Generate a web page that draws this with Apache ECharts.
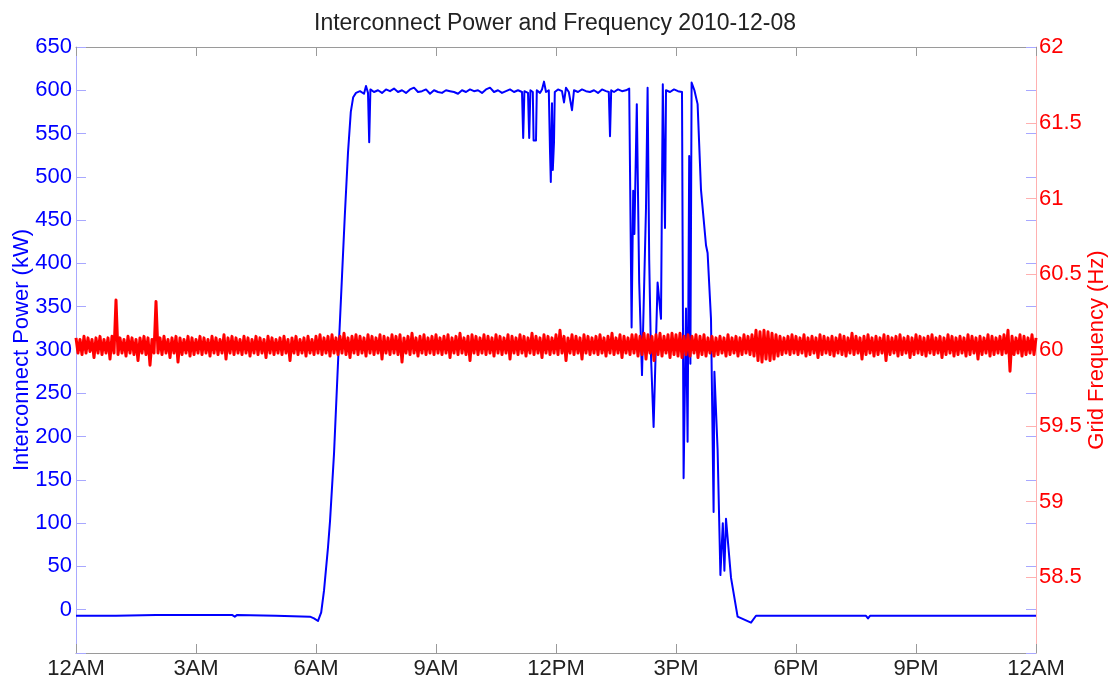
<!DOCTYPE html>
<html>
<head>
<meta charset="utf-8">
<script src="https://cdn.jsdelivr.net/npm/echarts@6/dist/echarts.min.js"></script>
<style>html,body{margin:0;padding:0;background:#fff}#c{width:1110px;height:683px}</style>
</head>
<body>
<div id="c"></div>
<script>
const titleText = 'Interconnect Power and Frequency 2010-12-08';
const xTickLabels = ['12AM','3AM','6AM','9AM','12PM','3PM','6PM','9PM','12AM'];

const powerHours = [0,1.0,2.0,3.0,3.9,3.97,4.03,5.0,5.85,5.95,6.0,6.05,6.1,6.13,6.2,6.3,6.35,6.45,6.55,6.65,6.72,6.8,6.87,6.93,
7.0,7.1,7.2,7.25,7.3,7.33,7.36,7.45,7.55,7.65,7.75,7.85,7.95,8.05,8.15,8.25,8.35,8.45,8.55,8.65,8.75,8.85,8.95,
9.05,9.15,9.25,9.35,9.45,9.55,9.65,9.75,9.85,9.95,10.05,10.15,10.25,10.35,10.45,10.55,10.65,10.75,10.85,10.95,
11.05,11.15,11.18,11.21,11.3,11.33,11.36,11.42,11.44,11.47,11.5,11.52,11.6,11.65,11.7,11.75,11.82,11.85,11.87,11.9,11.92,11.95,11.97,
12.05,12.15,12.2,12.25,12.32,12.4,12.45,12.55,12.65,12.75,12.85,12.95,13.05,13.15,13.25,13.32,13.35,13.38,13.45,13.55,13.65,13.75,13.83,
13.89,13.93,13.96,14.02,14.08,14.15,14.25,14.29,14.33,14.375,14.44,14.54,14.59,14.625,14.67,14.725,14.75,14.85,14.95,15.05,15.15,
15.19,15.25,15.29,15.33,15.36,15.39,15.46,15.54,15.625,15.75,15.79,15.875,15.94,15.96,16.04,16.11,16.17,16.21,16.25,16.375,16.54,16.875,
17.0,18.0,18.05,19.0,19.75,19.8,19.85,21.0,22.0,23.0,24.0];
const powerKW = [-7,-7,-6,-6,-6,-8,-6,-7,-8,-10,-9,-13,-12,-3,22,72,102,180,285,385,455,528,575,592,
597,599,596,605,597,540,601,598,600,597,601,599,602,598,600,597,601,603,598,599,601,596,600,
598,597,600,599,598,596,600,598,601,599,600,597,601,603,598,600,597,599,601,598,
600,598,545,599,597,545,600,598,542,544,542,600,597,601,610,598,600,530,494,585,508,540,598,
601,599,586,603,598,577,600,598,601,599,598,600,597,601,599,598,547,600,598,601,599,600,602,
326,484,434,584,378,271,464,603,404,293,211,378,376,336,607,441,600,598,601,599,598,
152,348,194,524,284,609,600,584,485,421,412,336,113,275,185,40,100,45,105,37,-8,-15,
-7,-7,-8,-7,-7,-10,-7,-7,-7,-7,-7];

const freqStepHours = 0.05;
const freqHz = [
60.08,59.98,60.07,59.97,60.09,59.98,60.08,59.99,60.07,59.95,60.08,59.98,60.09,59.97,60.07,59.98,60.08,59.94,60.09,59.98,
60.33,59.97,60.08,59.98,60.07,59.96,60.09,59.98,60.08,59.97,60.07,59.93,60.08,59.98,60.09,59.97,60.08,59.90,60.07,59.98,
60.32,59.98,60.08,59.97,60.09,59.98,60.07,59.95,60.08,59.98,60.09,59.92,60.08,59.97,60.07,59.98,60.09,59.96,60.08,59.97,
60.07,59.98,60.09,59.97,60.08,59.98,60.07,59.96,60.09,59.98,60.08,59.97,60.07,59.98,60.10,59.94,60.08,59.98,60.09,59.97,
60.08,59.98,60.07,59.97,60.09,59.98,60.08,59.96,60.07,59.98,60.09,59.97,60.08,59.98,60.07,59.95,60.09,59.98,60.08,59.97,
60.07,59.98,60.08,59.97,60.09,59.98,60.07,59.93,60.08,59.98,60.09,59.97,60.07,59.98,60.08,59.96,60.09,59.98,60.07,59.97,
60.09,59.98,60.10,59.97,60.08,59.98,60.09,59.96,60.10,59.98,60.08,59.97,60.09,59.98,60.11,59.97,60.08,59.95,60.09,59.98,
60.10,59.97,60.09,59.98,60.08,59.96,60.10,59.98,60.09,59.97,60.08,59.98,60.10,59.94,60.09,59.98,60.08,59.97,60.10,59.98,
60.09,59.97,60.10,59.92,60.08,59.98,60.09,59.97,60.11,59.98,60.08,59.96,60.09,59.98,60.10,59.97,60.08,59.98,60.09,59.97,
60.10,59.98,60.08,59.97,60.09,59.98,60.10,59.95,60.08,59.98,60.09,59.97,60.11,59.98,60.08,59.97,60.09,59.93,60.10,59.98,
60.09,59.97,60.08,59.98,60.10,59.97,60.09,59.98,60.08,59.96,60.10,59.98,60.09,59.97,60.08,59.98,60.10,59.94,60.09,59.98,
60.08,59.97,60.10,59.98,60.09,59.96,60.08,59.98,60.11,59.97,60.09,59.98,60.08,59.95,60.10,59.98,60.09,59.97,60.08,59.98,
60.10,59.97,60.13,59.98,60.09,59.93,60.08,59.98,60.10,59.97,60.09,59.98,60.08,59.94,60.10,59.98,60.09,59.97,60.08,59.98,
60.09,59.97,60.10,59.98,60.08,59.96,60.09,59.98,60.11,59.97,60.08,59.98,60.10,59.95,60.09,59.98,60.08,59.97,60.10,59.98,
60.10,59.96,60.09,59.97,60.11,59.94,60.10,59.98,60.09,59.93,60.10,59.97,60.11,59.96,60.09,59.98,60.10,59.95,60.11,59.97,
60.10,59.96,60.11,59.95,60.09,59.97,60.10,59.96,60.09,59.98,60.10,59.95,60.09,59.97,60.10,59.96,60.08,59.98,60.09,59.96,
60.08,59.97,60.09,59.98,60.08,59.96,60.10,59.97,60.08,59.98,60.09,59.96,60.08,59.97,60.10,59.98,60.09,59.97,60.10,59.96,
60.13,59.93,60.12,59.92,60.13,59.94,60.12,59.93,60.11,59.94,60.10,59.96,60.09,59.97,60.08,59.98,60.09,59.97,60.10,59.98,
60.09,59.97,60.08,59.98,60.10,59.96,60.08,59.97,60.09,59.98,60.08,59.95,60.10,59.97,60.09,59.98,60.08,59.97,60.09,59.96,
60.08,59.98,60.10,59.97,60.09,59.96,60.08,59.98,60.11,59.97,60.09,59.98,60.08,59.94,60.09,59.97,60.10,59.98,60.08,59.96,
60.09,59.97,60.08,59.98,60.10,59.93,60.09,59.97,60.08,59.98,60.09,59.96,60.10,59.97,60.08,59.98,60.09,59.95,60.08,59.97,
60.10,59.98,60.09,59.97,60.08,59.96,60.09,59.98,60.10,59.97,60.08,59.98,60.09,59.95,60.08,59.97,60.10,59.98,60.09,59.96,
60.08,59.97,60.09,59.98,60.08,59.96,60.10,59.97,60.09,59.98,60.08,59.94,60.09,59.97,60.08,59.98,60.10,59.96,60.09,59.97,
60.08,59.98,60.09,59.97,60.10,59.98,60.13,59.86,60.09,59.97,60.08,59.98,60.10,59.96,60.09,59.97,60.08,59.98,60.10,59.97,
60.08];

const FONT = '"Liberation Sans", Arial, Helvetica, sans-serif';
const powerData = powerHours.map((h, i) => [h, powerKW[i]]);
const freqData = freqHz.map((v, i) => [i * freqStepHours, v]);

const chart = echarts.init(document.getElementById('c'), null, {renderer: 'canvas'});
chart.setOption({
  animation: false,
  backgroundColor: '#fff',
  title: {
    text: titleText, left: 'center', top: 7,
    textStyle: {fontFamily: FONT, fontSize: 23, fontWeight: 'normal', color: '#222'}
  },
  grid: {left: 76, right: 74, top: 47, bottom: 30, containLabel: false, outerBoundsMode: 'none'},
  xAxis: [
    {
      type: 'value', min: 0, max: 24, interval: 3, position: 'bottom',
      axisLine: {show: true, onZero: false, lineStyle: {color: '#9a9a9a', width: 1}},
      axisTick: {show: true, inside: true, length: 9, lineStyle: {color: '#9a9a9a'}},
      axisLabel: {fontFamily: FONT, fontSize: 22, color: '#222', margin: 5,
        formatter: v => xTickLabels[Math.round(v / 3)]},
      splitLine: {show: false}
    },
    {
      type: 'value', min: 0, max: 24, interval: 3, position: 'top',
      axisLine: {show: true, onZero: false, lineStyle: {color: '#9a9a9a', width: 1}},
      axisTick: {show: true, inside: true, length: 9, lineStyle: {color: '#9a9a9a'}},
      axisLabel: {show: false}, splitLine: {show: false}
    }
  ],
  yAxis: [
    {
      type: 'value', min: -50, max: 650, interval: 50, position: 'left',
      name: 'Interconnect Power (kW)', nameLocation: 'middle', nameGap: 43, nameRotate: 90,
      nameMoveOverlap: false,
      nameTextStyle: {fontFamily: FONT, fontSize: 22, color: '#0000ff'},
      axisLine: {show: true, onZero: false, lineStyle: {color: '#a8a8ff', width: 1}},
      axisTick: {show: true, inside: true, length: 10, lineStyle: {color: '#a8a8ff'}},
      axisLabel: {fontFamily: FONT, fontSize: 22, color: '#0000ff', margin: 4,
        formatter: v => (v === -50 ? '' : String(v))},
      splitLine: {show: false}
    },
    {
      type: 'value', min: 58, max: 62, interval: 0.5, position: 'right',
      name: 'Grid Frequency (Hz)', nameLocation: 'middle', nameGap: 50, nameRotate: 90,
      nameMoveOverlap: false,
      nameTextStyle: {fontFamily: FONT, fontSize: 22, color: '#ff0000'},
      axisLine: {show: true, onZero: false, lineStyle: {color: '#ffb0b0', width: 1}},
      axisTick: {show: true, inside: true, length: 10, lineStyle: {color: '#ffb0b0'}},
      axisLabel: {fontFamily: FONT, fontSize: 22, color: '#ff0000', margin: 3,
        formatter: v => (v === 58 ? '' : String(v))},
      splitLine: {show: false}
    },
    {
      type: 'value', min: -50, max: 650, interval: 50, position: 'right',
      axisLine: {show: false, onZero: false},
      axisTick: {show: true, inside: true, length: 10, lineStyle: {color: '#a8a8ff'}},
      axisLabel: {show: false}, splitLine: {show: false}
    }
  ],
  series: [
    {
      name: 'Interconnect Power', type: 'line', xAxisIndex: 0, yAxisIndex: 0,
      data: powerData, showSymbol: false, symbol: 'none',
      lineStyle: {color: '#0000ff', width: 2, join: 'round'}, z: 2
    },
    {
      name: 'Grid Frequency', type: 'line', xAxisIndex: 0, yAxisIndex: 1,
      data: freqData, showSymbol: false, symbol: 'none',
      lineStyle: {color: '#ff0000', width: 3, join: 'round'}, z: 3
    }
  ]
});
</script>
</body>
</html>
